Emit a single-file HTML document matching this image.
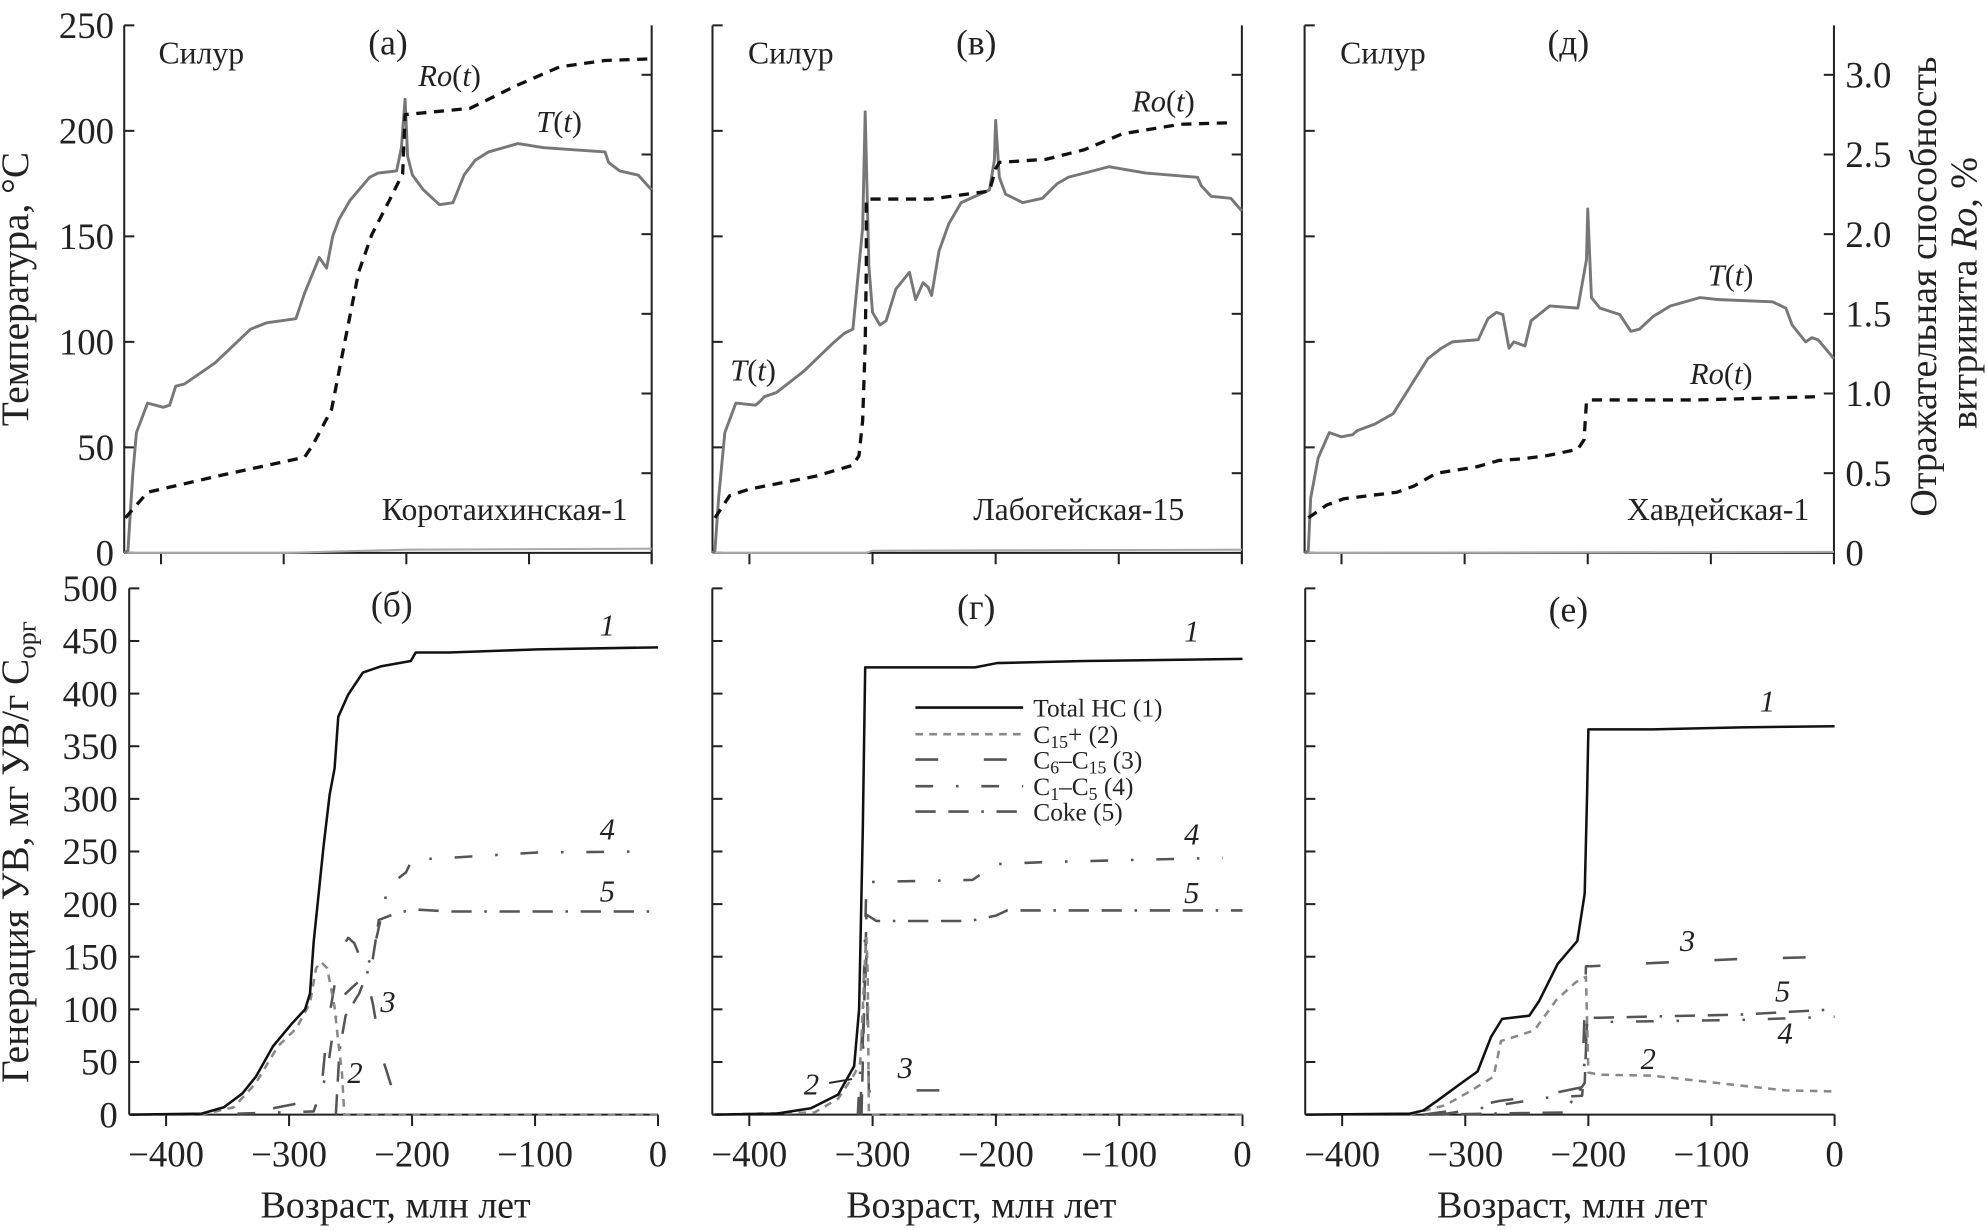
<!DOCTYPE html>
<html><head><meta charset="utf-8"><style>
html,body{margin:0;padding:0;background:#fff}
svg{display:block;font-family:"Liberation Serif","DejaVu Serif",serif}
text{font-family:"Liberation Serif","DejaVu Serif",serif;fill:#222}
</style></head><body>
<svg id="fig" width="1988" height="1230" viewBox="0 0 1568 970" preserveAspectRatio="none" font-family="Liberation Serif, DejaVu Serif, serif" xmlns="http://www.w3.org/2000/svg">
<g id="axes"></g>
<g id="marks"></g>
<g id="labels">
<text x="22" y="228" font-size="31" text-anchor="middle" transform="rotate(-90 22 228)">Температура, °C</text>
<text x="22" y="672" font-size="31" text-anchor="middle" transform="rotate(-90 22 672)">Генерация УВ, мг УВ/г C<tspan font-size="21" dy="6">орг</tspan></text>
<text x="1527" y="226" font-size="30" text-anchor="middle" transform="rotate(-90 1527 226)">Отражательная способность</text>
<text x="1559" y="231" font-size="30" text-anchor="middle" transform="rotate(-90 1559 231)">витринита <tspan font-style="italic">Ro</tspan>, %</text>
<text x="312" y="960" font-size="30" text-anchor="middle">Возраст, млн лет</text>
<text x="774" y="960" font-size="30" text-anchor="middle">Возраст, млн лет</text>
<text x="1240" y="960" font-size="30" text-anchor="middle">Возраст, млн лет</text>

<text x="125" y="50" font-size="25">Силур</text>
<text x="306" y="43" font-size="28" text-anchor="middle">(а)</text>
<text x="330" y="68" font-size="24"><tspan font-style="italic">Ro</tspan>(<tspan font-style="italic">t</tspan>)</text>
<text x="423" y="104" font-size="24"><tspan font-style="italic">T</tspan>(<tspan font-style="italic">t</tspan>)</text>
<text x="495" y="410" font-size="25" text-anchor="end">Коротаихинская-1</text>

<text x="590" y="50" font-size="25">Силур</text>
<text x="770" y="43" font-size="28" text-anchor="middle">(в)</text>
<text x="893" y="88" font-size="24"><tspan font-style="italic">Ro</tspan>(<tspan font-style="italic">t</tspan>)</text>
<text x="576" y="300" font-size="24"><tspan font-style="italic">T</tspan>(<tspan font-style="italic">t</tspan>)</text>
<text x="934" y="410" font-size="25" text-anchor="end">Лабогейская-15</text>

<text x="1057" y="50" font-size="25">Силур</text>
<text x="1237" y="43" font-size="28" text-anchor="middle">(д)</text>
<text x="1347" y="225" font-size="24"><tspan font-style="italic">T</tspan>(<tspan font-style="italic">t</tspan>)</text>
<text x="1333" y="303" font-size="24"><tspan font-style="italic">Ro</tspan>(<tspan font-style="italic">t</tspan>)</text>
<text x="1427" y="410" font-size="25" text-anchor="end">Хавдейская-1</text>

<text x="309" y="486" font-size="28" text-anchor="middle">(б)</text>
<g font-size="24" font-style="italic">
<text x="473" y="501">1</text>
<text x="473" y="662">4</text>
<text x="473" y="711">5</text>
<text x="300" y="798">3</text>
<text x="274" y="854">2</text>
<text x="934" y="506">1</text>
<text x="934" y="666">4</text>
<text x="934" y="712">5</text>
<text x="708" y="850">3</text>
<text x="634" y="863">2</text>
<text x="1388" y="561">1</text>
<text x="1325" y="750">3</text>
<text x="1400" y="790">5</text>
<text x="1402" y="823">4</text>
<text x="1294" y="843">2</text>
</g>
<line x1="654" y1="854" x2="672" y2="851" stroke="#222" stroke-width="1.5"/>
<text x="770" y="488" font-size="28" text-anchor="middle">(г)</text>
<text x="1237" y="490" font-size="28" text-anchor="middle">(е)</text>

<g font-size="20">
<line x1="722" y1="558" x2="807" y2="558" stroke="#111" stroke-width="2"/>
<text x="815" y="565">Total HC (1)</text>
<line x1="722" y1="579" x2="807" y2="579" stroke="#888" stroke-width="2" stroke-dasharray="6 5"/>
<text x="815" y="586">C<tspan font-size="14" dy="4">15</tspan><tspan dy="-4">+ (2)</tspan></text>
<line x1="722" y1="599" x2="807" y2="599" stroke="#555" stroke-width="2" stroke-dasharray="18 36"/>
<text x="815" y="606">C<tspan font-size="14" dy="4">6</tspan><tspan dy="-4">–C</tspan><tspan font-size="14" dy="4">15</tspan><tspan dy="-4"> (3)</tspan></text>
<line x1="722" y1="620" x2="807" y2="620" stroke="#555" stroke-width="2" stroke-dasharray="14 18 2 18"/>
<text x="815" y="627">C<tspan font-size="14" dy="4">1</tspan><tspan dy="-4">–C</tspan><tspan font-size="14" dy="4">5</tspan><tspan dy="-4"> (4)</tspan></text>
<line x1="722" y1="640" x2="807" y2="640" stroke="#555" stroke-width="2" stroke-dasharray="16 10 16 10 2 10"/>
<text x="815" y="647">Coke (5)</text>
</g>
</g>
</svg>
<script>
// ---- data (age in Myr, value) ----
const xTicks = [-400, -300, -200, -100, 0];
const xTickLabels = ["−400", "−300", "−200", "−100", "0"];
const tTicks = [0, 50, 100, 150, 200, 250];
const roTicks = [0, 0.5, 1.0, 1.5, 2.0, 2.5, 3.0];
const roTickLabels = ["0", "0.5", "1.0", "1.5", "2.0", "2.5", "3.0"];
const genTicks = [0, 50, 100, 150, 200, 250, 300, 350, 400, 450, 500];

const tempA = [[-430,0],[-427,1],[-423,37],[-420,57],[-411,71],[-398,69],[-393,70],[-388,79],[-381,80],[-356,90],[-327,106],[-314,109],[-290,111],[-283,123],[-271,140],[-265,135],[-260,150],[-255,158],[-246,167],[-230,178],[-223,180],[-208,181],[-204,192],[-201,215],[-199,188],[-195,179],[-186,172],[-173,165],[-162,166],[-153,179],[-144,186],[-133,190],[-109,194],[-88,192],[-38,190],[-35,185],[-26,181],[-11,179],[0,172]];
const roA = [[-429,0.22],[-411,0.38],[-349,0.49],[-283,0.6],[-276,0.68],[-261,0.9],[-250,1.33],[-239,1.76],[-228,2.0],[-214,2.21],[-203,2.38],[-201,2.75],[-148,2.79],[-111,2.93],[-75,3.05],[-38,3.09],[0,3.1]];
const baseA = [[-430,0],[-300,0],[-200,1.5],[0,2]];

const tempV = [[-430,0],[-428,1],[-425,26],[-420,57],[-411,71],[-395,70],[-391,72],[-388,74],[-378,76],[-356,86],[-331,100],[-323,104],[-316,106],[-308,154],[-306,209],[-303,136],[-300,114],[-294,108],[-289,110],[-281,125],[-270,133],[-265,120],[-259,128],[-255,126],[-252,122],[-246,143],[-238,156],[-228,166],[-205,172],[-201,186],[-200,205],[-197,178],[-192,170],[-178,166],[-162,168],[-150,175],[-141,178],[-108,183],[-78,180],[-36,178],[-33,174],[-25,169],[-9,168],[0,162]];
const roV = [[-428,0.22],[-416,0.36],[-400,0.40],[-347,0.48],[-316,0.55],[-311,0.61],[-308,0.83],[-306,1.31],[-305,1.79],[-305,2.22],[-253,2.22],[-205,2.27],[-200,2.41],[-197,2.45],[-159,2.47],[-128,2.53],[-97,2.63],[-50,2.69],[-6,2.70]];
const baseV = [[-430,0],[-305,0],[-300,1],[0,1.5]];

const tempD = [[-430,0],[-427,1],[-425,26],[-419,45],[-410,57],[-400,55],[-391,56],[-387,58],[-373,61],[-358,66],[-344,79],[-330,92],[-319,97],[-310,100],[-289,101],[-281,111],[-274,114],[-269,113],[-264,97],[-260,100],[-251,98],[-246,110],[-231,117],[-208,116],[-201,139],[-200,163],[-197,121],[-190,116],[-174,113],[-165,105],[-158,106],[-147,112],[-133,117],[-109,121],[-93,120],[-50,119],[-39,116],[-34,108],[-23,100],[-18,102],[-13,101],[0,92]];
const roD = [[-427,0.22],[-412,0.30],[-398,0.34],[-355,0.38],[-341,0.42],[-323,0.50],[-290,0.54],[-272,0.58],[-254,0.59],[-233,0.61],[-208,0.65],[-203,0.71],[-201,0.95],[-197,0.96],[-111,0.96],[-11,0.98]];
const baseD = [[-430,0],[0,0.5]];

const totB = [[-429,0],[-371,1],[-353,7],[-338,20],[-327,36],[-313,65],[-298,86],[-287,100],[-283,115],[-280,164],[-272,255],[-267,304],[-263,329],[-260,378],[-252,399],[-240,420],[-225,426],[-201,431],[-197,439],[-170,439],[-98,442],[0,444]];
const c15B = [[-429,0],[-371,0],[-345,7],[-327,30],[-309,65],[-294,82],[-283,106],[-278,139],[-274,145],[-269,139],[-263,102],[-260,69],[-257,40],[-255,0],[0,0]];
const c6B = [[-313,6],[-287,12],[-274,20],[-269,82],[-263,123],[-258,156],[-252,168],[-247,163],[-240,143],[-232,106],[-225,57],[-216,24]];
const c1B = [[-342,1],[-280,3],[-269,40],[-263,90],[-254,115],[-243,127],[-232,152],[-221,209],[-214,222],[-205,230],[-200,242],[-170,244],[-98,249],[-10,250]];
const cokeB = [[-262,0],[-259,61],[-254,94],[-243,115],[-232,148],[-227,185],[-218,189],[-200,195],[-170,193],[0,193]];

const totG = [[-428,0],[-378,1],[-350,6],[-328,19],[-315,46],[-311,100],[-308,270],[-306,425],[-217,425],[-199,429],[-128,431],[0,433]];
const c15G = [[-428,0],[-347,2],[-328,15],[-316,36],[-310,49],[-306,151],[-305,168],[-304,134],[-303,0],[0,0]];
const c6G = [[-310,0],[-307,100],[-305,151],[-303,22],[-278,23],[-240,23],[-210,15]];
const c1G = [[-312,0],[-308,90],[-305,221],[-219,223],[-200,238],[-159,240],[-16,244]];
const cokeG = [[-309,0],[-305,190],[-297,184],[-221,184],[-200,189],[-191,194],[0,194]];

const totE = [[-429,0],[-345,1],[-334,4],[-323,13],[-302,31],[-290,41],[-279,74],[-270,91],[-248,94],[-240,108],[-225,143],[-209,165],[-203,210],[-201,305],[-200,366],[-148,366],[-76,368],[0,369]];
const c15E = [[-345,0],[-316,9],[-295,23],[-277,36],[-271,70],[-265,72],[-244,80],[-226,109],[-210,126],[-202,131],[-200,40],[-191,38],[-148,37],[-95,30],[-40,23],[0,22]];
const c6E = [[-334,0],[-309,4],[-272,13],[-234,19],[-205,26],[-202,141],[-198,141],[-148,144],[-76,148],[0,150]];
const c1E = [[-320,0],[-272,9],[-234,16],[-205,18],[-201,86],[-191,88],[-76,90],[0,93]];
const cokeE = [[-330,0],[-220,2],[-203,30],[-201,92],[-191,92],[-76,95],[0,100]];

// ---- layout ----
const panels = {
  a:{x0:514, sx:0.9675, y0:436, top:20, left:-430},
  v:{x0:979.5, sx:0.971, y0:436, top:20, left:-430},
  d:{x0:1446.5, sx:0.971, y0:436, top:20, left:-430},
  b:{x0:519, sx:0.97, y0:879, top:464, left:-430},
  g:{x0:980, sx:0.9725, y0:879, top:464, left:-430},
  e:{x0:1447, sx:0.971, y0:879, top:464, left:-430}
};
const NS = "http://www.w3.org/2000/svg";
const axesG = document.getElementById('axes');
const marksG = document.getElementById('marks');
function xs(p, v){ return p.x0 + v*p.sx; }
function yT(p, v){ return p.y0 - v*(p.y0-p.top)/250; }
function yRo(p, v){ return p.y0 - v*(p.y0-59)/3; }
function yGen(p, v){ return p.y0 - v*(p.y0-p.top)/500; }
function mk(tag, attrs, parent){
  const el = document.createElementNS(NS, tag);
  for (const k in attrs) el.setAttribute(k, attrs[k]);
  parent.appendChild(el);
  return el;
}
function line(x1,y1,x2,y2,name){
  const el = mk('line',{x1:x1,y1:y1,x2:x2,y2:y2,stroke:'#222','stroke-width':1.6},axesG);
  
  
  return el;
}
function txt(x,y,s,anchor,name){
  const el = mk('text',{x:x,y:y,'font-size':29,'text-anchor':anchor},axesG);
  el.textContent = s;
  
  
}
function series(p, data, yf, style, name){
  const d = data.map((pt,i)=>(i?'L':'M')+xs(p,pt[0]).toFixed(1)+','+yf(p,pt[1]).toFixed(1)).join(' ');
  const el = mk('path',{d:d,fill:'none','stroke-linejoin':'round'},marksG);
  for (const k in style) el.setAttribute(k, style[k]);
  
  
}
['a','v','d'].forEach(k=>{
  const p = panels[k];
  const L = xs(p,p.left), R = xs(p,0);
  line(L,p.top,L,p.y0,'temperature-axis-'+k);
  line(L,p.y0,R,p.y0,'x-axis-top-'+k);
  line(R,p.top,R,p.y0+8,'ro-axis-'+k);
  tTicks.forEach(t=>{ line(L,yT(p,t),L+8,yT(p,t),'t-tick-'+k); if(k==='a') txt(L-8,yT(p,t)+10,String(t),'end','t-tick-label'); });
  roTicks.forEach((r,i)=>{ if(r>0) line(R-8,yRo(p,r),R,yRo(p,r),'ro-tick-'+k); if(k==='d') txt(R+9,yRo(p,r)+10,roTickLabels[i],'start','ro-tick-label'); });
  xTicks.forEach(t=>line(xs(p,t),p.y0,xs(p,t),p.y0+9,'x-tick-top-'+k));
});
['b','g','e'].forEach(k=>{
  const p = panels[k];
  const L = xs(p,p.left), R = xs(p,0);
  line(L,p.top,L,p.y0,'generation-axis-'+k);
  line(L,p.y0,R,p.y0,'x-axis-'+k);
  genTicks.forEach(t=>{ line(L,yGen(p,t),L+8,yGen(p,t),'gen-tick-'+k); if(k==='b') txt(L-9,yGen(p,t)+10,String(t),'end','gen-tick-label'); });
  xTicks.forEach((t,i)=>{ line(xs(p,t),p.y0,xs(p,t),p.y0+9,'x-tick-'+k); txt(xs(p,t),p.y0+41,xTickLabels[i],'middle','x-tick-label-'+k); });
});
const TS = {stroke:'#777','stroke-width':2.3};
const RS = {stroke:'#111','stroke-width':2.6,'stroke-dasharray':'8 6'};
const BS = {stroke:'#aaa','stroke-width':1.6};
series(panels.a, baseA, yT, BS, 'baseline-a');
series(panels.v, baseV, yT, BS, 'baseline-v');
series(panels.d, baseD, yT, BS, 'baseline-d');
series(panels.a, tempA, yT, TS, 'temperature-line-a');
series(panels.v, tempV, yT, TS, 'temperature-line-v');
series(panels.d, tempD, yT, TS, 'temperature-line-d');
series(panels.a, roA, yRo, RS, 'ro-line-a');
series(panels.v, roV, yRo, RS, 'ro-line-v');
series(panels.d, roD, yRo, RS, 'ro-line-d');
const S1 = {stroke:'#111','stroke-width':2};
const S2 = {stroke:'#888','stroke-width':2,'stroke-dasharray':'6 5'};
const S3 = {stroke:'#555','stroke-width':2,'stroke-dasharray':'18 36'};
const S4 = {stroke:'#555','stroke-width':2,'stroke-dasharray':'14 18 2 18'};
const S5 = {stroke:'#555','stroke-width':2,'stroke-dasharray':'16 10 16 10 2 10'};
[['b',totB,c15B,c6B,c1B,cokeB],['g',totG,c15G,c6G,c1G,cokeG],['e',totE,c15E,c6E,c1E,cokeE]].forEach(r=>{
  const p = panels[r[0]];
  series(p, r[5], yGen, S5, 'coke-line-'+r[0]);
  series(p, r[4], yGen, S4, 'c1-c5-line-'+r[0]);
  series(p, r[3], yGen, S3, 'c6-c15-line-'+r[0]);
  series(p, r[2], yGen, S2, 'c15plus-line-'+r[0]);
  series(p, r[1], yGen, S1, 'total-hc-line-'+r[0]);
});
</script>
</body></html>
